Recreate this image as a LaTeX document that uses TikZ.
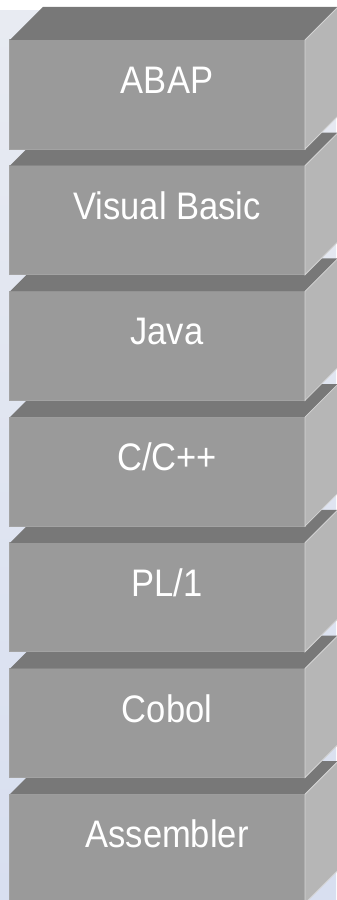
\documentclass[tikz,border=0pt]{standalone}
\usepackage{fontspec}
\setmainfont{Liberation Sans}[FakeStretch=0.9]
\definecolor{frontgray}{HTML}{9A9A9A}
\definecolor{edgegray}{HTML}{A3A3A3}
\definecolor{topgray}{HTML}{787878}
\definecolor{sidegray}{HTML}{B6B6B6}
\definecolor{bgtop}{HTML}{E8EBF2}
\definecolor{bgbottom}{HTML}{D8DFF0}
\begin{document}
\begin{tikzpicture}[x=1bp,y=-1bp,
    front/.style={rectangle,fill=frontgray,draw=edgegray,line width=1bp,
        minimum width=295bp,minimum height=109bp,inner sep=0pt,outer sep=0pt},
    topface/.style={fill=topgray},
    sideface/.style={fill=sidegray,draw=sidegray!60!white,line width=0.8bp},
    lbl/.style={text=white,font=\fontsize{38.5}{41}\selectfont,inner sep=0pt}]
    \useasboundingbox (0,0) rectangle (336,900);
    \fill[white] (0,0) rectangle (336,900);
    \shade[top color=bgtop,bottom color=bgbottom] (0,10) rectangle (336,900);

    % lowest block first, upper blocks lie on top
    \node[front] (asm) at (157.5,848.7) {};
    \fill[topface] (asm.north west) -- ++(33,-33) -- ++(295,0) -- (asm.north east) -- cycle;
    \fill[sideface] (asm.north east) -- ++(33,-33) -- ++(0,109) -- (asm.south east) -- cycle;
    \node[lbl] (asmT) at ([shift={(9.5,-14.5)}]asm.center) {Assembler};

    \node[front] (cobol) at (157.5,723.0) {};
    \fill[topface] (cobol.north west) -- ++(33,-33) -- ++(295,0) -- (cobol.north east) -- cycle;
    \fill[sideface] (cobol.north east) -- ++(33,-33) -- ++(0,109) -- (cobol.south east) -- cycle;
    \node[lbl] (cobolT) at ([shift={(9.5,-14.5)}]cobol.center) {Cobol};

    \node[front] (pl) at (157.5,597.3) {};
    \fill[topface] (pl.north west) -- ++(33,-33) -- ++(295,0) -- (pl.north east) -- cycle;
    \fill[sideface] (pl.north east) -- ++(33,-33) -- ++(0,109) -- (pl.south east) -- cycle;
    \node[lbl] (plT) at ([shift={(9.5,-14.5)}]pl.center) {PL/1};

    \node[front] (cpp) at (157.5,471.6) {};
    \fill[topface] (cpp.north west) -- ++(33,-33) -- ++(295,0) -- (cpp.north east) -- cycle;
    \fill[sideface] (cpp.north east) -- ++(33,-33) -- ++(0,109) -- (cpp.south east) -- cycle;
    \node[lbl] (cppT) at ([shift={(9.5,-14.5)}]cpp.center) {C/C++};

    \node[front] (java) at (157.5,345.9) {};
    \fill[topface] (java.north west) -- ++(33,-33) -- ++(295,0) -- (java.north east) -- cycle;
    \fill[sideface] (java.north east) -- ++(33,-33) -- ++(0,109) -- (java.south east) -- cycle;
    \node[lbl] (javaT) at ([shift={(9.5,-14.5)}]java.center) {Java};

    \node[front] (vb) at (157.5,220.2) {};
    \fill[topface] (vb.north west) -- ++(33,-33) -- ++(295,0) -- (vb.north east) -- cycle;
    \fill[sideface] (vb.north east) -- ++(33,-33) -- ++(0,109) -- (vb.south east) -- cycle;
    \node[lbl] (vbT) at ([shift={(9.5,-14.5)}]vb.center) {Visual Basic};

    \node[front] (abap) at (157.5,94.5) {};
    \fill[topface] (abap.north west) -- ++(33,-33) -- ++(295,0) -- (abap.north east) -- cycle;
    \fill[sideface] (abap.north east) -- ++(33,-33) -- ++(0,109) -- (abap.south east) -- cycle;
    \node[lbl] (abapT) at ([shift={(9.5,-14.5)}]abap.center) {ABAP};
\end{tikzpicture}
\end{document}
